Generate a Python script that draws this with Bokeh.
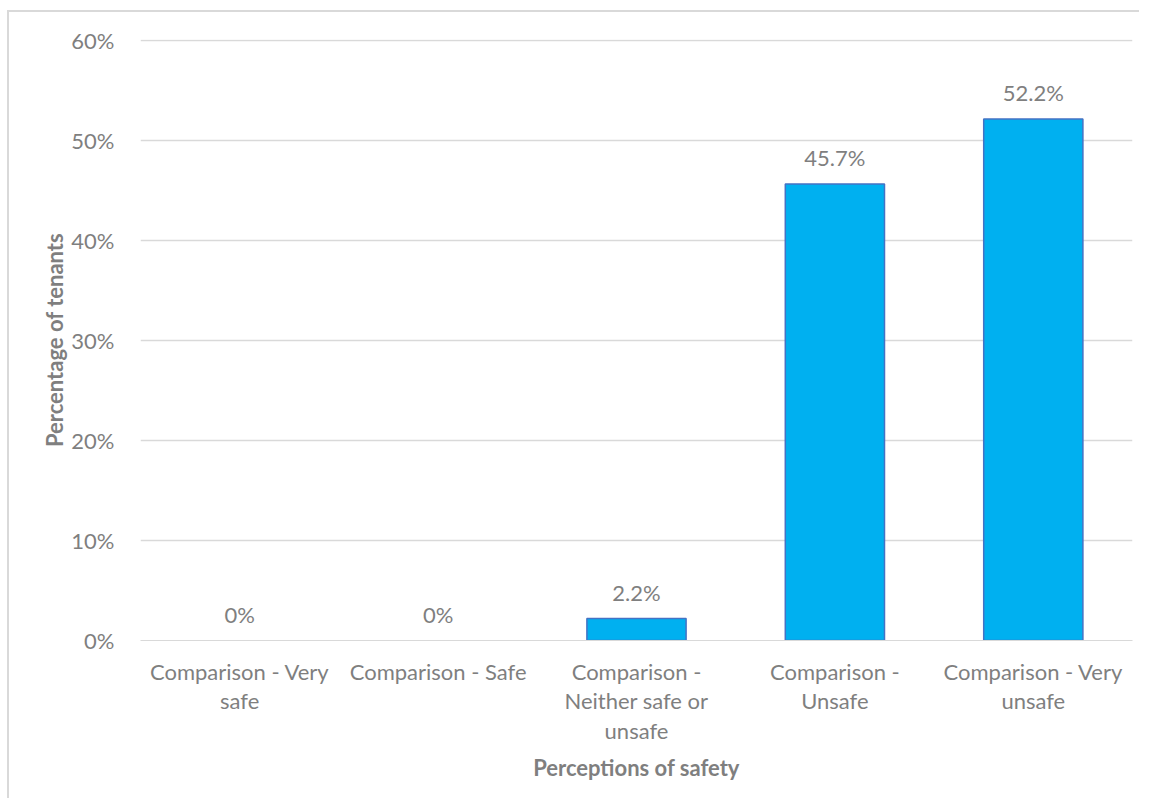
from bokeh.plotting import figure
from bokeh.models import ColumnDataSource, FactorRange, NumeralTickFormatter, FixedTicker, Range1d
from bokeh.core.properties import value
from bokeh.embed import file_html
from bokeh.resources import INLINE

categories = ["Comparison - Very\nsafe", "Comparison - Safe", "Comparison -\nNeither safe or\nunsafe",
              "Comparison -\nUnsafe", "Comparison - Very\nunsafe"]
values = [0.0, 0.0, 0.022, 0.457, 0.522]
labels = ["0%", "0%", "2.2%", "45.7%", "52.2%"]
y_ticks = [0, 0.1, 0.2, 0.3, 0.4, 0.5, 0.6]

FONT = "Lato"
GRAY = "#7f7f7f"
FS = "22px"

edge = ["#4472C4" if v > 0 else None for v in values]
src = ColumnDataSource(dict(x=categories, top=values, label=labels, edge=edge))

p = figure(x_range=FactorRange(*categories), y_range=Range1d(0, 0.6015),
           width=1132, height=788, output_backend="svg", toolbar_location=None,
           min_border_left=131, min_border_top=27, min_border_right=9, min_border_bottom=160)
p.styles = {"margin-left": "7px", "margin-top": "10px",
            "border-left": "2px solid #d9d9d9", "border-top": "2px solid #d9d9d9"}
p.outline_line_color = None
p.x_range.range_padding = 0
p.x_range.group_padding = 0
p.x_range.factor_padding = 0

p.vbar(x="x", top="top", width=0.5, source=src, fill_color="#00B0F0",
       line_color="edge", line_width=1.5)
p.text(x="x", y="top", text="label", source=src, text_align="center", text_baseline="alphabetic",
       y_offset=-26, text_color=GRAY, text_font=value(FONT), text_font_size=FS)

p.yaxis.ticker = FixedTicker(ticks=y_ticks)
p.yaxis.formatter = NumeralTickFormatter(format="0%")
p.yaxis.axis_line_color = None
p.yaxis.major_tick_line_color = None
p.yaxis.minor_tick_line_color = None
p.yaxis.major_label_text_color = GRAY
p.yaxis.major_label_text_font = FONT
p.yaxis.major_label_text_font_size = FS
p.yaxis.major_label_standoff = 20
p.yaxis.axis_label = "Percentage of tenants"
p.yaxis.axis_label_text_font = FONT
p.yaxis.axis_label_text_font_style = "bold"
p.yaxis.axis_label_text_font_size = FS
p.yaxis.axis_label_text_color = GRAY
p.yaxis.axis_label_standoff = 0

p.xaxis.axis_line_color = "#d9d9d9"
p.xaxis.major_tick_line_color = None
p.xaxis.minor_tick_line_color = None
p.xaxis.major_label_text_color = GRAY
p.xaxis.major_label_text_font = FONT
p.xaxis.major_label_text_font_size = FS
p.xaxis.major_label_text_line_height = 1.1
p.xaxis.major_label_standoff = 11
p.xaxis.axis_label = "Perceptions of safety"
p.xaxis.axis_label_text_font = FONT
p.xaxis.axis_label_text_font_style = "bold"
p.xaxis.axis_label_text_font_size = FS
p.xaxis.axis_label_text_color = GRAY
p.xaxis.axis_label_standoff = 7

p.xgrid.grid_line_color = None
p.ygrid.grid_line_color = "#d9d9d9"
p.ygrid.grid_line_width = 1.5

open("out.html", "w").write(file_html(p, INLINE))
